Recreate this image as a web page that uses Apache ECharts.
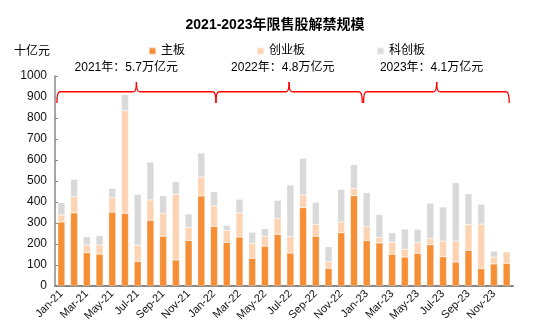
<!DOCTYPE html>
<html><head><meta charset="utf-8">
<script src="https://cdn.jsdelivr.net/npm/echarts@6/dist/echarts.min.js"></script>
<style>html,body{margin:0;padding:0;background:#fff}#c{width:550px;height:334px}</style>
</head><body><div id="c"></div>
<script>
const categories = ['Jan-21','Feb-21','Mar-21','Apr-21','May-21','Jun-21','Jul-21','Aug-21','Sep-21','Oct-21','Nov-21','Dec-21',
'Jan-22','Feb-22','Mar-22','Apr-22','May-22','Jun-22','Jul-22','Aug-22','Sep-22','Oct-22','Nov-22','Dec-22',
'Jan-23','Feb-23','Mar-23','Apr-23','May-23','Jun-23','Jul-23','Aug-23','Sep-23','Oct-23','Nov-23','Dec-23'];
const mainBoard = [305,348,159,152,352,346,117,313,237,124,217,429, 284,208,233,132,190,246,157,373,237,84,254,430, 217,205,151,138,156,197,140,114,170,83,105,108];
const chiNext = [33,77,36,43,70,489,77,97,109,313,62,90, 97,57,116,71,47,76,78,60,57,33,51,35, 66,27,57,37,50,28,74,100,122,212,33,55];
const starMarket = [59,83,40,45,43,76,242,180,84,60,64,114, 68,24,64,53,36,86,246,175,104,70,155,113, 161,108,46,96,64,169,162,278,148,94,29,0];
const seriesNames = ['主板','创业板','科创板'];
const yearNotes = ['2021年：5.7万亿元','2022年：4.8万亿元','2023年：4.1万亿元'];
// bracket spans (category index units) and peak/text positions
const braceStart = [-0.35, 12.15, 23.75];
const braceEnd = [12.15, 23.65, 35.2];
const bracePeak = [5.9, 17.9, 29.5];
const noteCenter = [5.1, 17.4, 29.1];

const font = 'Arial, "Liberation Sans", "Noto Sans CJK SC", sans-serif';
const chart = echarts.init(document.getElementById('c'));
const colors = ['#F58E34','#FDD4B3','#D9D9D9'];
const vals = [mainBoard, chiNext, starMarket];
chart.setOption({
  animation:false,
  textStyle:{fontFamily:font},
  title:{text:'2021-2023年限售股解禁规模',left:'center',top:13,textStyle:{fontSize:14,fontWeight:'bold',color:'#000',fontFamily:font}},
  legend:{top:40,left:143,itemGap:71,itemWidth:7,itemHeight:7,icon:'rect',
    textStyle:{fontSize:12,color:'#000',fontFamily:font},data:seriesNames},
  grid:{left:55,right:37,top:76,bottom:48},
  xAxis:{type:'category',data:categories,
    axisLine:{lineStyle:{color:'#888',width:2}},axisTick:{show:false},
    axisLabel:{interval:1,rotate:45,fontSize:11,color:'#111',margin:6,fontFamily:font}},
  yAxis:{type:'value',min:0,max:1000,interval:100,name:'十亿元',
    nameLocation:'end',nameGap:0,nameTextStyle:{fontSize:12,color:'#000',align:'right',padding:[0,5,18,0]},
    axisLine:{show:true,lineStyle:{color:'#888',width:1.5}},
    axisTick:{show:true,inside:true,length:3,lineStyle:{color:'#888'}},
    splitLine:{show:false},
    axisLabel:{fontSize:12,color:'#111',margin:8,fontFamily:font,formatter:v=>String(v)}},
  series: seriesNames.map((n,i)=>({name:n,type:'bar',stack:'a',data:vals[i],barWidth:'56%',
    itemStyle:{color:colors[i],borderColor:'rgba(255,255,255,0.5)',borderWidth:0.5}}))
});

// draw red braces
const xAt = v => { const a = chart.convertToPixel({xAxisIndex:0},0); const b = chart.convertToPixel({xAxisIndex:0},1); return a + v*(b-a); };
const yAt = v => chart.convertToPixel({yAxisIndex:0},v);
const g = [];
const yLine = yAt(925), yEnd = yAt(872), yPeak = yAt(972), yText = yAt(1040);
const st = {stroke:'#FF0000',lineWidth:1.3,fill:null};
const r = 3;
for (let k=0;k<3;k++){
  const x0 = xAt(braceStart[k]), x1 = xAt(braceEnd[k]), xp = xAt(bracePeak[k]);
  g.push({type:'bezierCurve',shape:{x1:x0,y1:yEnd,cpx1:x0,cpy1:yLine,x2:x0+r,y2:yLine},style:st});
  g.push({type:'line',shape:{x1:x0+r,y1:yLine,x2:xp-r,y2:yLine},style:st});
  g.push({type:'bezierCurve',shape:{x1:xp-r,y1:yLine,cpx1:xp,cpy1:yLine,x2:xp,y2:yPeak},style:st});
  g.push({type:'bezierCurve',shape:{x1:xp,y1:yPeak,cpx1:xp,cpy1:yLine,x2:xp+r,y2:yLine},style:st});
  g.push({type:'line',shape:{x1:xp+r,y1:yLine,x2:x1-r,y2:yLine},style:st});
  g.push({type:'bezierCurve',shape:{x1:x1-r,y1:yLine,cpx1:x1,cpy1:yLine,x2:x1,y2:yEnd},style:st});
  g.push({type:'text',x:xAt(noteCenter[k]),y:yText,style:{text:yearNotes[k],fill:'#000',align:'center',verticalAlign:'middle',font:'12px '+font}});
}
chart.setOption({graphic:g});
</script></body></html>
